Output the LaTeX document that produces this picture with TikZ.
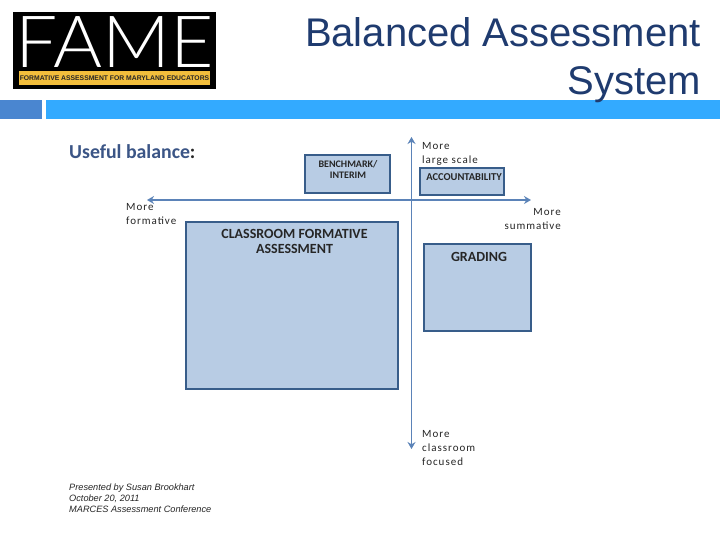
\documentclass[tikz,border=0pt]{standalone}
\usepackage{fontspec}
\setmainfont{Liberation Sans}
\newfontfamily\boxfont{Carlito}
\newfontfamily\axfont[LetterSpace=9]{Carlito}
\newfontfamily\lightfont{Lato Light}
\definecolor{boxfill}{HTML}{B8CCE4}
\definecolor{boxline}{HTML}{385D8A}
\definecolor{axisc}{HTML}{5B83B8}
\definecolor{titlec}{HTML}{1F3B6F}
\definecolor{headc}{HTML}{33AAFF}
\definecolor{headl}{HTML}{4A86D0}
\definecolor{gold}{HTML}{F2BE3C}
\definecolor{subtitle}{HTML}{3B5586}
\usetikzlibrary{arrows.meta}
\tikzset{
  qbox/.style={draw=boxline,line width=1.5pt,fill=boxfill,anchor=center,inner sep=0pt,outer sep=0pt},
  boxlabel/.style={font=\boxfont\bfseries\fontsize{#1}{#1}\selectfont,text=black!85,align=center,inner sep=0pt},
  axlabel/.style={font=\axfont\fontsize{11}{14}\selectfont,text=black!85,align=left,inner sep=0pt,anchor=north west},
  axisline/.style={draw=axisc,line width=1.7pt,-{Stealth[length=7pt,width=8pt]}}
}
\begin{document}
\begin{tikzpicture}[x=1pt,y=-1pt]
\useasboundingbox (0,0) rectangle (720,540);
\fill[white] (0,0) rectangle (720,540);
% logo
\node[fill=black,minimum width=203pt,minimum height=77pt,inner sep=0pt,outer sep=0pt,anchor=north west] (logo) at (12.5,12) {};
\node[fill=gold,minimum width=191pt,minimum height=14pt,inner sep=0pt,outer sep=0pt,anchor=north west] (strip) at (19,71) {};
\node[text=white,font=\lightfont\fontsize{72}{72}\selectfont,inner sep=0pt,anchor=base,xscale=1.04] (fame) at (114.5,68) {FAME};
\node[text=black!85,font=\bfseries\fontsize{6.8}{7}\selectfont,inner sep=0pt] (fametag) at (114.5,78) {FORMATIVE ASSESSMENT FOR MARYLAND EDUCATORS};
% header bars
\fill[headl] (0,100) rectangle (42,119);
\fill[headc] (46,100) rectangle (720,119);
% title
\node[text=titlec,font=\fontsize{40}{48}\selectfont,inner sep=0pt,anchor=base east] (title) at (701,47) {Balanced Assessment};
\node[text=titlec,font=\fontsize{40}{48}\selectfont,inner sep=0pt,anchor=base east] (title2) at (701,95) {System};
% content
\node[text=subtitle,font=\boxfont\bfseries\fontsize{19.8}{20}\selectfont,inner sep=0pt,anchor=base west] (useful) at (69,158.5) {Useful balance\textcolor{black!85}{:}};
% axes
\coordinate (hl) at (147,200);
\coordinate (hr) at (531,200);
\coordinate (vt) at (411.5,137);
\coordinate (vb) at (411.5,449);
\coordinate (mid) at (411.5,200);
\draw[axisline] (mid) -- (hl);
\draw[axisline] (mid) -- (hr);
\draw[axisline] (mid) -- (vt);
\draw[axisline] (mid) -- (vb);
% boxes
\node[qbox,minimum width=212pt,minimum height=167pt] (cfa) at (292,305.5) {};
\node[qbox,minimum width=85pt,minimum height=38pt] (bench) at (347.5,174) {};
\node[qbox,minimum width=84pt,minimum height=27pt] (acc) at (462,181.5) {};
\node[qbox,minimum width=107pt,minimum height=87pt] (grad) at (477.5,287.5) {};
\node[boxlabel=14] (cfat) at (294.5,241.5) {CLASSROOM FORMATIVE\\[1pt]ASSESSMENT};
\node[boxlabel=10] (bencht) at (348,169) {BENCHMARK/\\[1pt]INTERIM};
\node[boxlabel=10.5] (acct) at (464,177) {ACCOUNTABILITY};
\node[boxlabel=14] (gradt) at (479,256.5) {GRADING};
% axis labels
\node[axlabel] (l1) at (422,142) {More\\large scale};
\node[axlabel,align=right,anchor=north east] (l2) at (561,208) {More\\summative};
\node[axlabel] (l3) at (126,203) {More\\formative};
\node[axlabel] (l4) at (422,430.5) {More\\classroom\\focused};
% credit
\node[text=black!85,font=\itshape\fontsize{9.2}{11}\selectfont,align=left,inner sep=0pt,anchor=north west] (credit) at (69,484) {Presented by Susan Brookhart\\October 20, 2011\\MARCES Assessment Conference};
\end{tikzpicture}
\end{document}
